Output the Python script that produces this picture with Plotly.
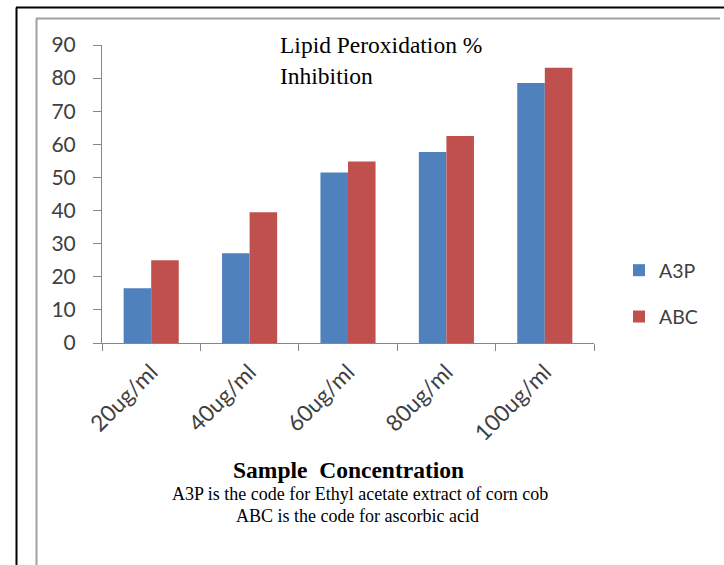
import plotly.graph_objects as go

# Lipid peroxidation % inhibition by sample concentration
concentrations = ["20ug/ml", "40ug/ml", "60ug/ml", "80ug/ml", "100ug/ml"]
a3p_values = [16.5, 27.1, 51.5, 57.7, 78.5]
abc_values = [25.0, 39.5, 54.8, 62.5, 83.1]
y_ticks = [0, 10, 20, 30, 40, 50, 60, 70, 80, 90]

W, H = 724, 565
L, R, T, B = 102, 130, 45, 222
PW, PH = W - L - R, H - T - B

def px(x):
    return (x - L) / PW

def py(y):
    return (H - B - y) / PH

sans = "Lato, 'DejaVu Sans', sans-serif"
serif = "'Liberation Serif', 'Times New Roman', serif"

fig = go.Figure()
fig.add_trace(go.Bar(name="A3P", x=concentrations, y=a3p_values,
                     marker=dict(color="#4F81BD", line=dict(width=0)),
                     legendgroup="a"))
fig.add_trace(go.Bar(name="ABC", x=concentrations, y=abc_values,
                     marker=dict(color="#C0504D", line=dict(width=0)),
                     legendgroup="b"))

fig.update_layout(
    width=W, height=H,
    margin=dict(l=L, r=R, t=T, b=B),
    paper_bgcolor="white", plot_bgcolor="white",
    barmode="group", bargap=0.44, bargroupgap=0,
    font=dict(family=sans, color="#404040", size=19),
    showlegend=True,
    legend=dict(x=px(619), y=py(251), xanchor="left", yanchor="top",
                font=dict(family=sans, size=19.5, color="#404040"),
                tracegroupgap=18, bgcolor="rgba(0,0,0,0)",
                itemwidth=30),
    xaxis=dict(
        type="category", tickson="boundaries", ticks="outside", ticklen=7,
        tickcolor="#868686", tickwidth=1, showline=True, linecolor="#868686",
        linewidth=1, showgrid=False, tickangle=-45, ticklabelstandoff=6,
        tickfont=dict(family=sans, size=22.5, color="#404040"),
    ),
    yaxis=dict(
        range=[0, 90], tickvals=y_ticks, ticks="outside", ticklen=8,
        tickcolor="#868686", tickwidth=1, showline=True, linecolor="#868686",
        linewidth=1, showgrid=False, zeroline=False, ticklabelstandoff=13,
        tickfont=dict(family=sans, size=21, color="#404040"),
    ),
)

# Chart title and axis captions
fig.add_annotation(x=px(278), y=py(30), xref="paper", yref="paper",
                   xanchor="left", yanchor="top", align="left", showarrow=False,
                   text="Lipid Peroxidation %<br>Inhibition",
                   font=dict(family=serif, size=23.5, color="#000000"))
fig.add_annotation(x=px(348), y=py(470), xref="paper", yref="paper",
                   xanchor="center", yanchor="middle", showarrow=False,
                   text="<b>Sample  Concentration</b>",
                   font=dict(family=serif, size=23.5, color="#000000"))
fig.add_annotation(x=px(360), y=py(494), xref="paper", yref="paper",
                   xanchor="center", yanchor="middle", showarrow=False,
                   text="A3P is the code for Ethyl acetate extract of corn cob",
                   font=dict(family=serif, size=18, color="#000000"))
fig.add_annotation(x=px(357), y=py(516), xref="paper", yref="paper",
                   xanchor="center", yanchor="middle", showarrow=False,
                   text="ABC is the code for ascorbic acid",
                   font=dict(family=serif, size=18, color="#000000"))

# Outer and inner frame lines
frame = [
    (16.5, 7.5, 16.5, H, "#000000", 2),
    (16, 7.5, W, 7.5, "#000000", 2),
    (36.5, 18.5, 36.5, H, "#A0A0A0", 2),
    (36, 18.5, 720, 18.5, "#A0A0A0", 2),
]
for x0, y0, x1, y1, c, w in frame:
    fig.add_shape(type="line", xref="paper", yref="paper",
                  x0=px(x0), y0=py(y0), x1=px(x1), y1=py(y1),
                  line=dict(color=c, width=w))

fig.write_html("out.html")
